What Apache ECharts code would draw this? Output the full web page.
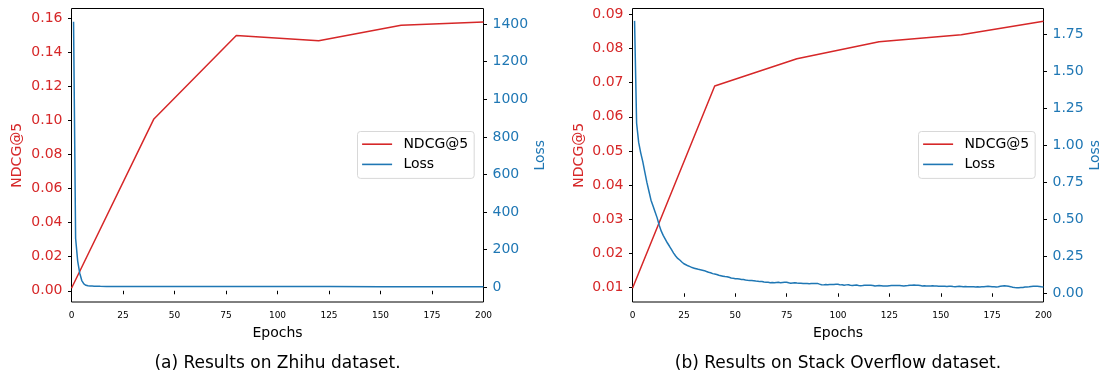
<!DOCTYPE html>
<html>
<head>
<meta charset="utf-8">
<script src="https://cdn.jsdelivr.net/npm/echarts@6/dist/echarts.min.js"></script>
<style>
html,body{margin:0;padding:0;background:#fff;}
#chart{width:1106px;height:376px;}
</style>
</head>
<body>
<div id="chart"></div>
<script>
// ---------------- data ----------------
const ndcgEpochs = [0, 40, 80, 120, 160, 200];
const zhihuNdcg = [0.0015, 0.101, 0.150, 0.147, 0.156, 0.158];
const soNdcg = [0.0098, 0.069, 0.077, 0.082, 0.084, 0.088];

const zhihuLossEpochs = [1, 2, 3, 4, 5, 6, 7, 8, 9, 10, 11, 12, 14, 17, 20, 25, 30, 40, 50, 75, 100, 125, 150, 175, 200];
const zhihuLoss = [1412, 260, 140, 75, 36, 18, 11, 8, 7, 6.5, 6, 5.7, 5.4, 5.1, 4.9, 4.7, 4.5, 4.3, 4.2, 4.0, 3.9, 3.8, 3.7, 3.6, 3.5];

// Stack Overflow loss, one value per epoch (1..200)
const soLoss = [
1.842,1.15,1.02,0.95,0.89,0.82,0.75,0.69,0.63,0.59,
0.55,0.51,0.46,0.42,0.39,0.365,0.34,0.318,0.295,0.272,
0.252,0.236,0.225,0.212,0.200,0.193,0.186,0.180,0.174,0.170,
0.166,0.162,0.159,0.156,0.153,0.147,0.142,0.139,0.133,0.130,
0.127,0.122,0.119,0.116,0.113,0.112,0.108,0.104,0.101,0.099,
0.098,0.096,0.094,0.093,0.090,0.088,0.087,0.086,0.085,0.083,
0.082,0.079,0.080,0.077,0.075,0.074,0.072,0.073,0.071,0.073,
0.074,0.072,0.073,0.074,0.075,0.071,0.068,0.070,0.072,0.069,
0.068,0.068,0.067,0.066,0.066,0.065,0.066,0.067,0.066,0.067,
0.062,0.058,0.057,0.059,0.058,0.059,0.060,0.060,0.061,0.061,
0.057,0.058,0.055,0.057,0.058,0.054,0.053,0.055,0.056,0.053,
0.051,0.052,0.054,0.055,0.054,0.054,0.053,0.050,0.051,0.052,
0.051,0.049,0.050,0.049,0.051,0.052,0.053,0.053,0.052,0.052,
0.051,0.050,0.051,0.052,0.054,0.055,0.056,0.055,0.054,0.052,
0.050,0.051,0.050,0.049,0.050,0.051,0.050,0.049,0.048,0.047,
0.048,0.047,0.046,0.047,0.048,0.046,0.045,0.046,0.047,0.046,
0.045,0.046,0.045,0.044,0.045,0.044,0.043,0.044,0.043,0.044,
0.045,0.046,0.047,0.046,0.045,0.044,0.043,0.045,0.048,0.050,
0.051,0.050,0.048,0.045,0.041,0.039,0.038,0.038,0.039,0.040,
0.042,0.043,0.044,0.046,0.047,0.048,0.047,0.046,0.044,0.043
];

const xTicks = [0, 25, 50, 75, 100, 125, 150, 175, 200];
const zhihuNdcgTicks = [0, 0.02, 0.04, 0.06, 0.08, 0.10, 0.12, 0.14, 0.16];
const zhihuLossTicks = [0, 200, 400, 600, 800, 1000, 1200, 1400];
const soNdcgTicks = [0.01, 0.02, 0.03, 0.04, 0.05, 0.06, 0.07, 0.08, 0.09];
const soLossTicks = [0, 0.25, 0.5, 0.75, 1.0, 1.25, 1.5, 1.75];

const captions = ['(a) Results on Zhihu dataset.', '(b) Results on Stack Overflow dataset.'];
const seriesNames = ['NDCG@5', 'Loss'];

// ---------------- styling ----------------
const RED = '#d62728';
const BLUE = '#1f77b4';
const FONT = 'DejaVu Sans';

const chart = echarts.init(document.getElementById('chart'), null, {renderer: 'canvas'});

function pairs(xs, ys) { return ys.map((v, i) => [xs[i], v]); }
const soEpochs = soLoss.map((_, i) => i + 1);

const grids = [
  {left: 71.5, top: 8.5, width: 412, height: 293.5},
  {left: 632.5, top: 8.5, width: 411, height: 293.5}
];

function xAxisFor(gi) {
  return {
    type: 'value', gridIndex: gi, min: 0, max: 200, interval: 25,
    name: 'Epochs', nameLocation: 'middle', nameGap: 24,
    nameTextStyle: {fontFamily: FONT, fontSize: 14, color: '#000'},
    axisLine: {show: false},
    axisTick: {show: true, inside: false, length: 3.5, lineStyle: {color: '#000', width: 1}},
    axisLabel: {show: true, margin: 9, fontFamily: FONT, fontSize: 9, color: '#000',
      customValues: xTicks},
    splitLine: {show: false}
  };
}

function yAxisFor(gi, pos, name, color, min, max, ticks, fmt, gap) {
  return {
    type: 'value', gridIndex: gi, position: pos, min: min, max: max,
    name: name, nameLocation: 'middle', nameGap: gap, nameRotate: 90,
    nameTextStyle: {fontFamily: FONT, fontSize: 14, color: color},
    axisLine: {show: false},
    axisTick: {show: true, inside: false, length: 3.5, lineStyle: {color: '#000', width: 1}, customValues: ticks},
    axisLabel: {show: true, margin: 9, fontFamily: FONT, fontSize: 14, color: color,
      customValues: ticks, formatter: fmt},
    splitLine: {show: false}
  };
}

function legendFor(left) {
  return {
    orient: 'vertical', left: left, top: 131.5,
    data: seriesNames,
    icon: 'rect', itemWidth: 30, itemHeight: 1.6, itemGap: 6.2,
    padding: [5.7, 6, 7, 4.6],
    backgroundColor: '#ffffff', borderColor: '#d8d8d8', borderWidth: 1, borderRadius: 3,
    selectedMode: false,
    formatter: '{a|{name}}',
    textStyle: {fontFamily: FONT, fontSize: 14, color: '#000',
      rich: {a: {fontFamily: FONT, fontSize: 14, color: '#000', lineHeight: 16, padding: [0, 0, 0, 6.3]}}}
  };
}

const option = {
  animation: false,
  backgroundColor: '#ffffff',
  grid: grids.map(g => Object.assign({show: true, borderColor: '#000', borderWidth: 1, backgroundColor: 'transparent', containLabel: false}, g)),
  xAxis: [xAxisFor(0), xAxisFor(1)],
  yAxis: [
    yAxisFor(0, 'left', 'NDCG@5', RED, -0.0066, 0.1659, zhihuNdcgTicks, v => v.toFixed(2), 47),
    yAxisFor(0, 'right', 'Loss', BLUE, -78, 1483, zhihuLossTicks, v => String(Math.round(v)), 50),
    yAxisFor(1, 'left', 'NDCG@5', RED, 0.0058, 0.0917, soNdcgTicks, v => v.toFixed(2), 46),
    yAxisFor(1, 'right', 'Loss', BLUE, -0.0588, 1.9257, soLossTicks, v => v.toFixed(2), 45)
  ],
  legend: [legendFor(357.5), legendFor(918.5)],
  series: [
    {name: 'NDCG@5', type: 'line', xAxisIndex: 0, yAxisIndex: 0, data: pairs(ndcgEpochs, zhihuNdcg),
      showSymbol: false, symbol: 'none', lineStyle: {color: RED, width: 1.5}, itemStyle: {color: RED}, z: 2},
    {name: 'Loss', type: 'line', xAxisIndex: 0, yAxisIndex: 1, data: pairs(zhihuLossEpochs, zhihuLoss),
      showSymbol: false, symbol: 'none', lineStyle: {color: BLUE, width: 1.5}, itemStyle: {color: BLUE}, z: 3},
    {name: 'NDCG@5', type: 'line', xAxisIndex: 1, yAxisIndex: 2, data: pairs(ndcgEpochs, soNdcg),
      showSymbol: false, symbol: 'none', lineStyle: {color: RED, width: 1.5}, itemStyle: {color: RED}, z: 2},
    {name: 'Loss', type: 'line', xAxisIndex: 1, yAxisIndex: 3, data: pairs(soEpochs, soLoss),
      showSymbol: false, symbol: 'none', lineStyle: {color: BLUE, width: 1.5}, itemStyle: {color: BLUE}, z: 3}
  ],
  graphic: [
    {type: 'text', x: 277.5, y: 364, silent: true,
      style: {text: captions[0], fontFamily: FONT, fontSize: 17, fill: '#000', align: 'center', verticalAlign: 'middle'}},
    {type: 'text', x: 838, y: 364, silent: true,
      style: {text: captions[1], fontFamily: FONT, fontSize: 17, fill: '#000', align: 'center', verticalAlign: 'middle'}}
  ]
};

chart.setOption(option);
</script>
</body>
</html>
